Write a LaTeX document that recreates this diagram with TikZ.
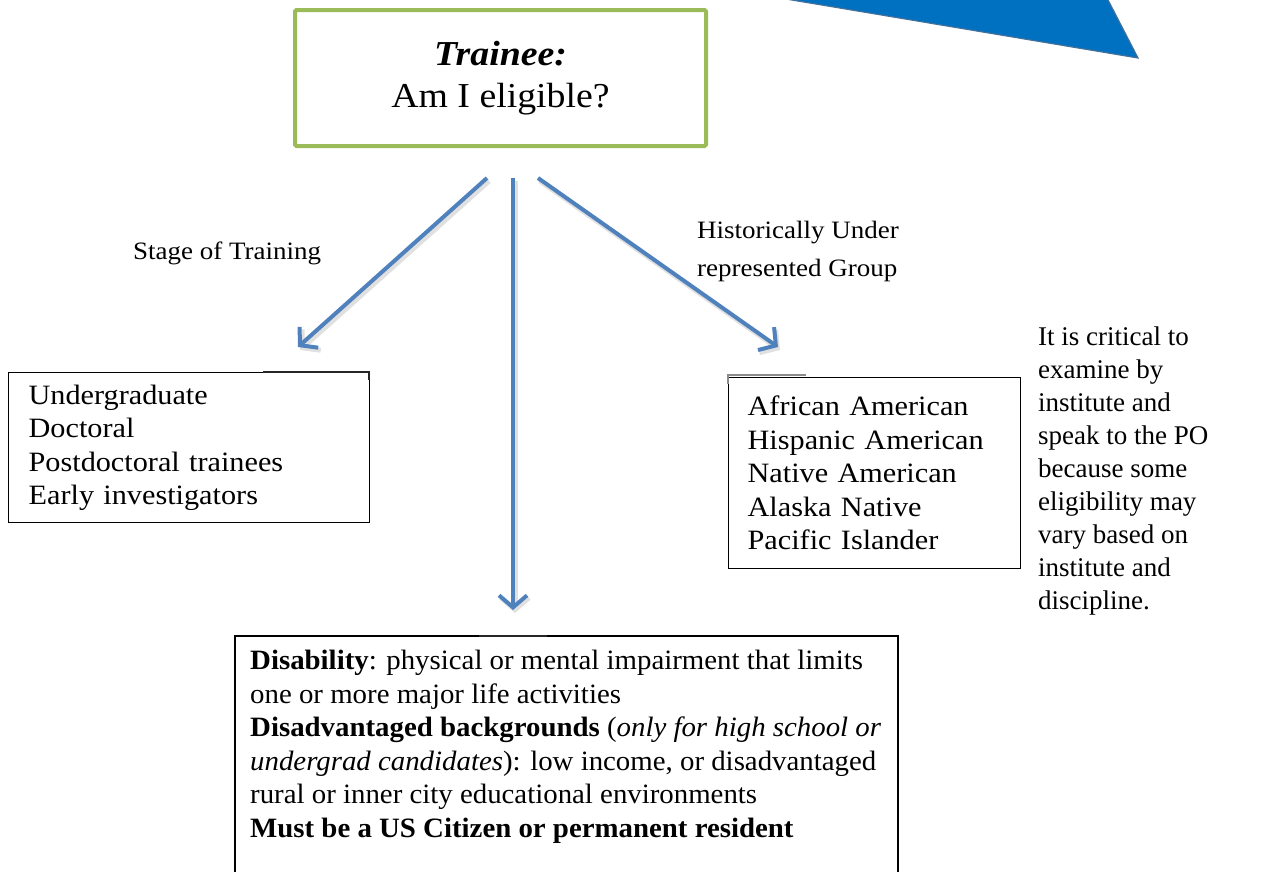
\documentclass[tikz,border=0pt]{standalone}
\usepackage{fontspec}
\setmainfont{Liberation Serif}
\newfontfamily\camb{Liberation Serif}[FakeStretch=1.08]
\newfontfamily\cambn{Liberation Serif}[FakeStretch=1.03]
\usetikzlibrary{arrows.meta}
\definecolor{trgreen}{HTML}{9BBB59}
\definecolor{arrblue}{HTML}{4F81BD}
\definecolor{trifill}{HTML}{0070C0}
\definecolor{triedge}{HTML}{41719C}
\begin{document}
\begin{tikzpicture}[x=1pt,y=-1pt,
  trainee/.style={draw=trgreen, line width=4pt, rounded corners=1.5pt, minimum width=411pt, minimum height=136pt, align=center, inner sep=0pt, font={\camb\fontsize{35}{42}\selectfont}},
  listbox/.style={draw=black, line width=1.3pt, align=left, inner ysep=0pt, font={\camb\fontsize{28}{33.5}\selectfont}},
  plain/.style={align=left, inner sep=0pt, font={\cambn\fontsize{28}{33.5}\selectfont}},
  lbl/.style={align=left, inner sep=0pt, font={\camb\fontsize{25}{37}\selectfont}},
  note/.style={align=left, inner sep=0pt, font={\fontsize{27}{33}\selectfont}},
  flow/.style={draw=arrblue, line width=4pt, -{Straight Barb[length=12pt,width=28pt]}},
  shadowline/.style={draw=black!12, line width=5pt, -{Straight Barb[length=12pt,width=28pt]}}
]
\useasboundingbox (0,0) rectangle (1279,871);
% blue triangle at the top right
\filldraw[fill=trifill, draw=triedge, line width=1.2pt] (780,-2) -- (1138,58) -- (1107,-2) -- cycle;

% trainee box
\node[trainee] (tr) at (500.5,78) {\textbf{\textit{Trainee:}}\\Am I eligible?};

% boxes
\node[listbox, anchor=north west, minimum width=361pt, minimum height=150pt, text width=321pt, inner xsep=20pt] (ug) at (8,372)
  {Undergraduate\\Doctoral\\Postdoctoral trainees\\Early investigators};
\node[listbox, anchor=north west, minimum width=292pt, minimum height=191pt, text width=254pt, inner xsep=19pt] (urg) at (728,377)
  {African American\\Hispanic American\\Native American\\Alaska Native\\Pacific Islander};
\draw[black, line width=1.3pt] (235,890) -- (235,636) -- (898,636) -- (898,890);
\node[plain, anchor=north west] (dis) at (250,650)
  {\textbf{Disability}: physical or mental impairment that limits\\
   one or more major life activities\\
   \textbf{Disadvantaged backgrounds} (\textit{only for high school or}\\
   \textit{undergrad candidates}): low income, or disadvantaged\\
   rural or inner city educational environments\\
   \textbf{Must be a US Citizen or permanent resident}};

% small border artefacts
\draw[black!85, line width=2pt] (263,372) -- (369,372) -- (369,380);
\draw[black!85, line width=2.2pt] (479,636) -- (547,636);
\draw[black!45, line width=1.6pt] (728,384) -- (728,375) -- (806,375);

% note on the right
\node[note, anchor=north west] (nt) at (1038,327)
  {It is critical to\\examine by\\institute and\\speak to the PO\\because some\\eligibility may\\vary based on\\institute and\\discipline.};

% labels
\node[lbl, anchor=west] (l1) at (133,253) {Stage of Training};
\node[lbl, anchor=west] (l2) at (697,233) {Historically Under};
\node[lbl, anchor=west] (l3) at (697,270) {represented Group};

% arrows
\coordinate (s1) at (487,178);
\coordinate (e1) at (298,347);
\coordinate (s2) at (513,178);
\coordinate (e2) at (513,610);
\coordinate (s3) at (538,178);
\coordinate (e3) at (778,347);
\draw[shadowline] ([shift={(2,3)}]s1) -- ([shift={(2,3)}]e1);
\draw[shadowline] ([shift={(2,3)}]s2) -- ([shift={(2,3)}]e2);
\draw[shadowline] ([shift={(2,3)}]s3) -- ([shift={(2,3)}]e3);
\draw[flow] (s1) -- (e1);
\draw[flow] (s2) -- (e2);
\draw[flow] (s3) -- (e3);
\end{tikzpicture}
\end{document}
